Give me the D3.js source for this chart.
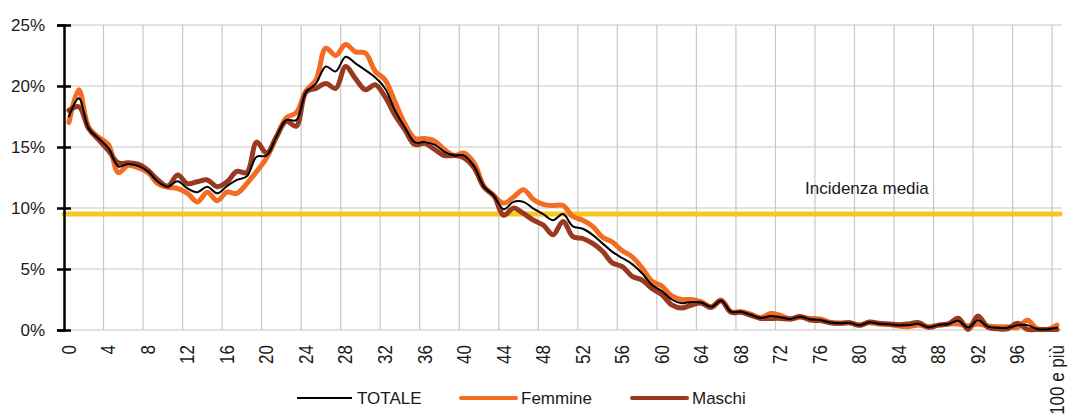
<!doctype html>
<html>
  <head>
    <style>
      body { margin: 0; background: white; }
      text { font-family: "Liberation Sans", Arial, sans-serif; fill: #1a1a1a; }
    </style>
    <script src="https://cdnjs.cloudflare.com/ajax/libs/d3/7.8.5/d3.min.js"></script>
  </head>
  <body>
    <div id="chart"></div>
    <script>
      // ages 0..99 plus "100 e più"
      var ages = d3.range(0, 100).map(String).concat(["100 e più"]);
      var yTicks = [0, 0.05, 0.10, 0.15, 0.20, 0.25];
      var incidenzaMedia = 0.095;

      // percent values
      var totale = [17.5, 19.0, 16.5, 15.7, 14.9, 13.4, 13.6, 13.45, 13.0, 12.15,
        11.75, 12.2, 11.6, 11.3, 11.75, 11.2, 11.8, 12.3, 12.6, 14.2,
        14.3, 15.85, 17.2, 17.2, 19.5, 20.2, 21.6, 21.2, 22.4, 21.85,
        21.3, 20.7, 19.8, 18.0, 16.6, 15.4, 15.4, 15.2, 14.6, 14.3,
        14.3, 13.4, 11.75, 11.0, 9.9, 10.5, 10.5, 9.95, 9.5, 9.0,
        9.5, 8.5, 8.3, 7.8, 7.1, 6.4, 5.9, 5.4, 4.65, 3.7,
        3.2, 2.5, 2.2, 2.3, 2.25, 1.9, 2.4, 1.5, 1.5, 1.25,
        0.98, 1.15, 1.05, 0.9, 1.08, 0.88, 0.83, 0.62, 0.55, 0.6,
        0.39, 0.63, 0.52, 0.48, 0.39, 0.4, 0.5, 0.23, 0.4, 0.5,
        0.75, 0.2, 0.8, 0.28, 0.18, 0.18, 0.38, 0.4, 0.08, 0.05,
        0.2];
      var femmine = [17.0, 19.7, 16.6, 15.8, 15.2, 12.9, 13.5, 13.3, 12.9, 12.0,
        11.7, 11.6, 11.2, 10.5, 11.3, 10.6, 11.3, 11.2, 12.0, 13.0,
        14.1, 15.8, 17.4, 17.8, 19.6, 20.5, 23.1, 22.5, 23.4, 22.8,
        22.7, 21.2, 20.5, 18.7, 16.9, 15.7, 15.7, 15.5, 14.8, 14.3,
        14.5, 13.7, 11.8, 11.0, 10.4, 10.9, 11.5, 10.7, 10.3, 10.2,
        10.2, 9.3, 9.0, 8.5, 7.6, 7.2, 6.5, 6.0, 5.1, 4.0,
        3.6, 2.8, 2.5, 2.5, 2.3, 1.9, 2.45, 1.5, 1.5, 1.3,
        1.0, 1.35, 1.2, 0.9, 1.05, 0.95, 0.9, 0.65, 0.55, 0.6,
        0.4, 0.6, 0.5, 0.45, 0.33, 0.27, 0.4, 0.25, 0.4, 0.5,
        0.5, 0.33, 0.5, 0.33, 0.27, 0.27, 0.2, 0.8, 0.1, 0.05,
        0.4];
      var maschi = [18.0, 18.3, 16.5, 15.6, 14.7, 13.7, 13.7, 13.6, 13.1, 12.3,
        11.8, 12.7, 12.0, 12.15, 12.3, 11.75, 12.15, 13.0, 12.9, 15.4,
        14.5, 15.85, 17.1, 16.7, 19.5, 19.8, 20.2, 19.8, 21.6, 20.6,
        19.7, 20.1, 19.1, 17.6, 16.4, 15.2, 15.3, 14.8, 14.3, 14.3,
        14.1, 13.3, 11.7, 11.0, 9.4, 10.0, 9.55, 9.0, 8.6, 7.8,
        8.9, 7.65, 7.5, 7.1, 6.45, 5.5, 5.2, 4.4, 4.1, 3.4,
        2.9, 2.05, 1.8, 2.05, 2.2, 1.85, 2.4, 1.45, 1.45, 1.2,
        0.95, 0.95, 0.95, 0.9, 1.1, 0.82, 0.77, 0.6, 0.55, 0.6,
        0.38, 0.66, 0.55, 0.5, 0.44, 0.5, 0.6, 0.22, 0.4, 0.5,
        0.96, 0.05, 1.15, 0.22, 0.1, 0.1, 0.55, 0.05, 0.05, 0.05,
        0.05];

      var width = 1067, height = 418;
      var margin = {left: 64, right: 5, top: 25, bottom: 88};

      var svg = d3.select("#chart").append("svg")
                  .attr("width", width)
                  .attr("height", height);

      var x = d3.scaleBand().domain(ages).range([margin.left, width - margin.right]).padding(0);
      var y = d3.scaleLinear().domain([0, 0.25]).range([height - margin.bottom, margin.top]);

      // horizontal gridlines
      svg.append("g")
         .selectAll("line")
         .data(yTicks)
         .enter().append("line")
         .attr("x1", x.range()[0]).attr("x2", x.range()[1])
         .attr("y1", d => y(d)).attr("y2", d => y(d))
         .attr("stroke", "#c8c8c8").attr("stroke-width", 1.2);

      // vertical gridlines every 4 categories (between categories)
      var vGrid = ages.filter((d, i) => i > 0 && i % 4 === 0);
      svg.append("g")
         .selectAll("line")
         .data(vGrid)
         .enter().append("line")
         .attr("x1", d => x(d)).attr("x2", d => x(d))
         .attr("y1", y(0)).attr("y2", y(0.25))
         .attr("stroke", "#c8c8c8").attr("stroke-width", 1.2);

      // average incidence line (under the series)
      svg.append("line")
         .attr("x1", x.range()[0]).attr("x2", x.range()[1] - 2)
         .attr("y1", y(incidenzaMedia)).attr("y2", y(incidenzaMedia))
         .attr("stroke", "#f6c622").attr("stroke-width", 5)
         .attr("stroke-linecap", "round");

      svg.append("text")
         .attr("x", 805).attr("y", y(incidenzaMedia) - 20)
         .style("font-size", "17px")
         .text("Incidenza media");

      // y axis with ticks crossing the line
      var yAxis = svg.append("g")
         .attr("transform", "translate(" + margin.left + ",0)")
         .call(d3.axisLeft(y).tickValues(yTicks).tickSize(7).tickPadding(12)
                 .tickFormat(d3.format(".0%")));
      yAxis.select(".domain").attr("stroke", "#000").attr("stroke-width", 2.5);
      yAxis.selectAll(".tick line").attr("x1", 7).attr("stroke", "#000").attr("stroke-width", 2.5);
      yAxis.selectAll(".tick text").style("font-size", "17px").attr("fill", "#1a1a1a");

      // x labels, every 4 years, rotated
      var xAxis = svg.append("g")
         .attr("transform", "translate(0," + y(0) + ")")
         .call(d3.axisBottom(x).tickValues(ages.filter((d, i) => i % 4 === 0)).tickSize(0));
      xAxis.select(".domain").remove();
      xAxis.selectAll(".tick text")
           .attr("transform", "translate(0,15) rotate(-90) scale(1,1.15)")
           .attr("x", 0).attr("y", 0).attr("dy", "0.35em")
           .style("text-anchor", "end")
           .style("font-size", "17px")
           .attr("fill", "#1a1a1a");

      var series = [
        {name: "TOTALE", values: totale, color: "#000000", width: 2},
        {name: "Femmine", values: femmine, color: "#f46b23", width: 5},
        {name: "Maschi", values: maschi, color: "#993a20", width: 5}
      ];

      var line = d3.line()
                   .x((d, i) => x(ages[i]) + x.bandwidth() / 2)
                   .y(d => y(d / 100))
                   .curve(d3.curveCatmullRom.alpha(0.5));

      // draw order: orange, brown, then black on top
      [series[1], series[2], series[0]].forEach(function(s) {
        svg.append("path")
           .datum(s.values)
           .attr("d", line)
           .attr("fill", "none")
           .attr("stroke", s.color)
           .attr("stroke-width", s.width)
           .attr("stroke-linejoin", "round")
           .attr("stroke-linecap", "round");
      });

      // legend
      var legendX = [297, 461, 632];
      var legend = svg.append("g").selectAll("g")
         .data(series)
         .enter().append("g")
         .attr("transform", (d, i) => "translate(" + legendX[i] + ",398)");
      legend.append("line")
            .attr("x1", 0).attr("x2", 55)
            .attr("stroke", d => d.color)
            .attr("stroke-width", d => d.width === 2 ? 2 : 4)
            .attr("stroke-linecap", d => d.width === 2 ? "butt" : "round");
      legend.append("text")
            .attr("x", 60).attr("dy", "0.35em")
            .style("font-size", "17px")
            .text(d => d.name);
    </script>
  </body>
</html>
